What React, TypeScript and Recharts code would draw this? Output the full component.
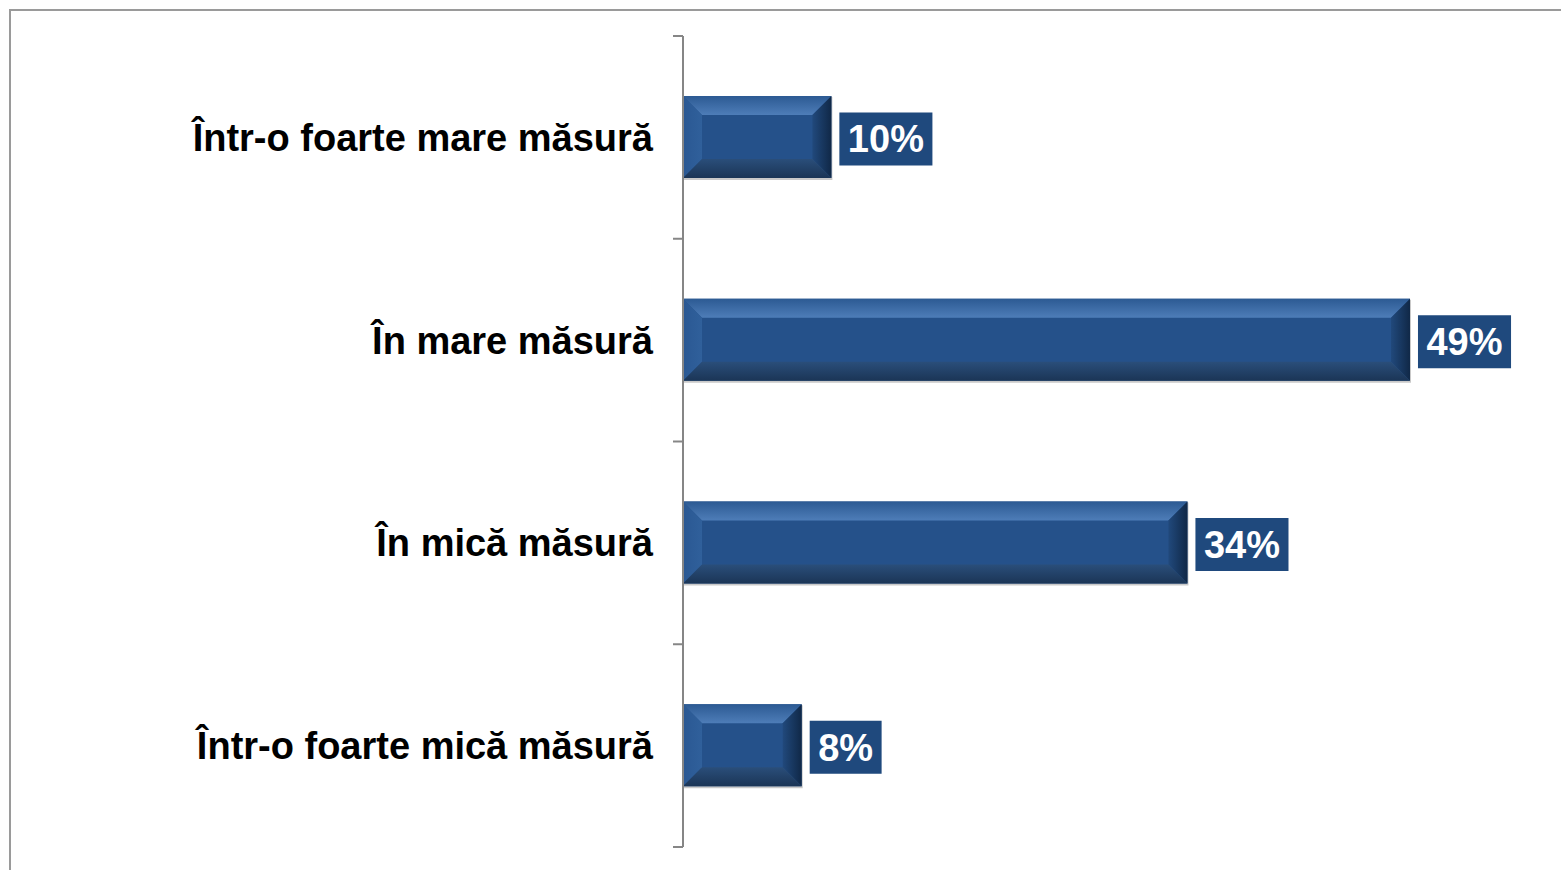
import { BarChart, Bar, XAxis, YAxis, LabelList } from "recharts";

const categories = [
  "Într-o foarte mare măsură",
  "În mare măsură",
  "În mică măsură",
  "Într-o foarte mică măsură",
];
const values = [10, 49, 34, 8];

const data = categories.map((name, i) => ({ name, value: values[i] }));

const FONT = '"Liberation Sans", Arial, sans-serif';
const AXIS_GRAY = "#868686";
const LABEL_BG = "#1f497d";

let ctx: CanvasRenderingContext2D | null = null;
function textWidth(s: string, font: string) {
  if (!ctx) ctx = document.createElement("canvas").getContext("2d");
  if (!ctx) return s.length * 20;
  ctx.font = font;
  return ctx.measureText(s).width;
}

function BevelBar(props: any) {
  const { x, y, width: w, height: h } = props;
  if (!w || w <= 0) return null;
  const b = 19;
  return (
    <g>
      <rect x={x + 1} y={y + 1} width={w} height={h + 1} fill="#c9c9c9" />
      <rect x={x} y={y} width={w} height={h} fill="#25518a" />
      <polygon points={`${x},${y} ${x + w},${y} ${x + w - b},${y + b} ${x + b},${y + b}`} fill="url(#bevTop)" />
      <polygon points={`${x},${y} ${x + b},${y + b} ${x + b},${y + h - b} ${x},${y + h}`} fill="url(#bevLeft)" />
      <polygon points={`${x + w},${y} ${x + w},${y + h} ${x + w - b},${y + h - b} ${x + w - b},${y + b}`} fill="url(#bevRight)" />
      <polygon points={`${x},${y + h} ${x + w},${y + h} ${x + w - b},${y + h - b} ${x + b},${y + h - b}`} fill="url(#bevBottom)" />
    </g>
  );
}

function ValueLabel(props: any) {
  const { x, y, width, height, value } = props;
  const text = `${value}%`;
  const font = `bold 38px ${FONT}`;
  const tw = textWidth(text, font);
  const bw = tw + 17;
  const bx = x + width + 8;
  const cy = y + height / 2 + 2;
  return (
    <g>
      <rect x={bx} y={cy - 26.5} width={bw} height={53} fill={LABEL_BG} />
      <text x={bx + bw / 2} y={cy} dy="0.355em" textAnchor="middle" fill="#ffffff"
        fontFamily={FONT} fontWeight="bold" fontSize={38}>
        {text}
      </text>
    </g>
  );
}

function CategoryTick(props: any) {
  const { x, y, payload, index, visibleTicksCount } = props;
  const half = payload.offset ?? 101;
  const lx = x + 30;
  const last = index === (visibleTicksCount ?? categories.length) - 1;
  return (
    <g>
      <text x={x} y={y} dy="0.355em" textAnchor="end" fill="#000000"
        fontFamily={FONT} fontWeight="bold" fontSize={38}>
        {payload.value}
      </text>
      <line x1={lx - 10} x2={lx} y1={y - half} y2={y - half} stroke={AXIS_GRAY} strokeWidth={2} />
      {last && <line x1={lx - 10} x2={lx} y1={y + half} y2={y + half} stroke={AXIS_GRAY} strokeWidth={2} />}
    </g>
  );
}

export default function App() {
  return (
    <div style={{ position: "absolute", left: 0, top: 0, width: 1561, height: 870, overflow: "hidden", background: "#fff" }}>
      <div style={{ position: "absolute", left: 9, top: 9, width: 1600, height: 900, borderLeft: "2px solid #9a9a9a", borderTop: "2px solid #9a9a9a" }} />
      <div style={{ position: "absolute", left: 0, top: 0 }}>
        <BarChart width={1561} height={870} data={data} layout="vertical"
          margin={{ top: 36, right: 62, bottom: 23, left: 0 }}>
          <defs>
            <linearGradient id="bevTop" x1="0" y1="0" x2="0" y2="1">
              <stop offset="0%" stopColor="#2c5a93" />
              <stop offset="100%" stopColor="#4e7db8" />
            </linearGradient>
            <linearGradient id="bevLeft" x1="0" y1="0" x2="1" y2="0">
              <stop offset="0%" stopColor="#2a5893" />
              <stop offset="100%" stopColor="#30609b" />
            </linearGradient>
            <linearGradient id="bevRight" x1="0" y1="0" x2="1" y2="0">
              <stop offset="0%" stopColor="#21497c" />
              <stop offset="100%" stopColor="#102847" />
            </linearGradient>
            <linearGradient id="bevBottom" x1="0" y1="0" x2="0" y2="1">
              <stop offset="0%" stopColor="#2a4e7a" />
              <stop offset="100%" stopColor="#1b3556" />
            </linearGradient>
          </defs>
          <XAxis type="number" domain={[0, 55]} hide />
          <YAxis type="category" dataKey="name" width={683} tickSize={0} tickMargin={30}
            tickLine={false} axisLine={{ stroke: AXIS_GRAY, strokeWidth: 2 }}
            tick={<CategoryTick />} interval={0} />
          <Bar dataKey="value" barSize={82} shape={<BevelBar />} isAnimationActive={false}>
            <LabelList dataKey="value" content={<ValueLabel />} />
          </Bar>
        </BarChart>
      </div>
    </div>
  );
}
